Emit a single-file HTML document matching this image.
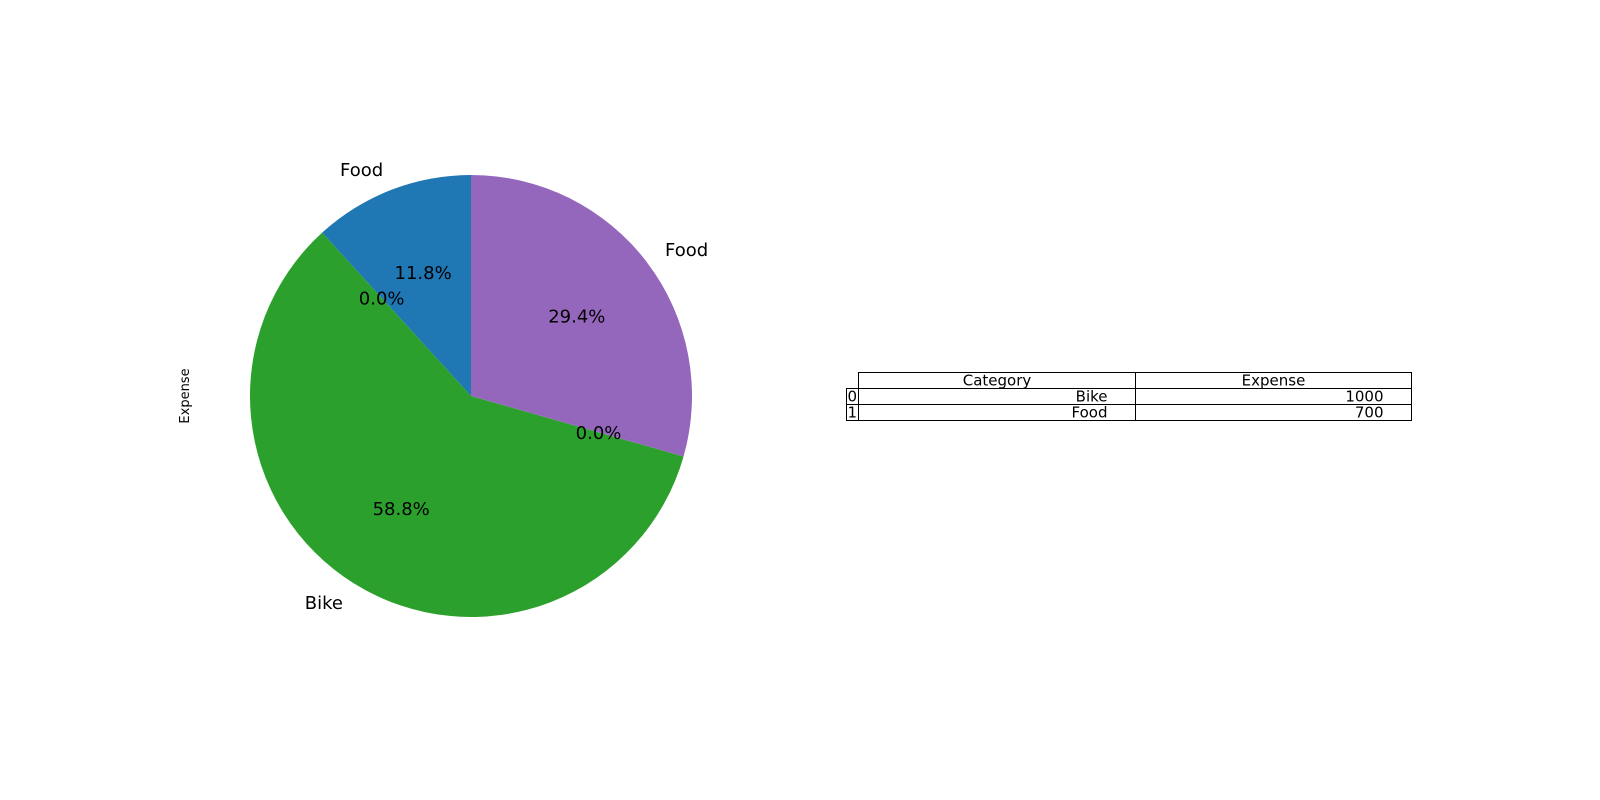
<!DOCTYPE html>
<html><head><meta charset="utf-8"><style>
body{margin:0;background:#fff;}
svg{display:block;font-family:"DejaVu Sans","Liberation Sans",sans-serif;}
</style></head><body>
<svg id="chart" width="1600" height="800" viewBox="0 0 1600 800" xmlns="http://www.w3.org/2000/svg">
<text x="189" y="396" font-size="13" text-anchor="middle" transform="rotate(-90 189 396)">Expense</text>
<g id="pie"></g>
<g id="pielabels"></g>
<g id="table"></g>
</svg>
<script>
const sliceLabels = ["Food", "", "Bike", "", "Food"];
const sliceValues = [200, 0, 1000, 0, 500];
const sliceColors = ["#1f77b4", "#ff7f0e", "#2ca02c", "#d62728", "#9467bd"];
const tableCategories = ["Bike", "Food"];
const tableExpenses = [1000, 700];

const NS = "http://www.w3.org/2000/svg";
const cx = 471, cy = 396, R = 221;
const pie = document.getElementById("pie");
const pl = document.getElementById("pielabels");
const total = sliceValues.reduce((a, b) => a + b, 0);
let ang = 90;
function pt(a, r) { const t = a * Math.PI / 180; return [cx + r * Math.cos(t), cy - r * Math.sin(t)]; }
sliceValues.forEach((v, i) => {
  const sweep = v / total * 360;
  const a0 = ang, a1 = ang + sweep, mid = ang + sweep / 2;
  if (sweep > 0) {
    const p0 = pt(a0, R), p1 = pt(a1, R);
    const path = document.createElementNS(NS, "path");
    path.setAttribute("d", `M${cx},${cy} L${p0[0]},${p0[1]} A${R},${R} 0 ${sweep > 180 ? 1 : 0} 0 ${p1[0]},${p1[1]} Z`);
    path.setAttribute("fill", sliceColors[i]);
    
    
    pie.appendChild(path);
  }
  ang = a1;
  const pc = pt(mid, R * 0.6);
  const t = document.createElementNS(NS, "text");
  t.setAttribute("x", pc[0]); t.setAttribute("y", pc[1] + 6.5);
  t.setAttribute("font-size", "18"); t.setAttribute("text-anchor", "middle");
  t.textContent = (v / total * 100).toFixed(1) + "%";
  
  
  pl.appendChild(t);
  if (sliceLabels[i]) {
    const lp = pt(mid, R * 1.1);
    const l = document.createElementNS(NS, "text");
    l.setAttribute("x", lp[0]); l.setAttribute("y", lp[1] + 6.5);
    l.setAttribute("font-size", "18");
    l.setAttribute("text-anchor", lp[0] < cx ? "end" : "start");
    l.textContent = sliceLabels[i];
    
    
    pl.appendChild(l);
  }
});

const tb = document.getElementById("table");
function rect(x, y, w, h, name) {
  const r = document.createElementNS(NS, "rect");
  r.setAttribute("x", x); r.setAttribute("y", y); r.setAttribute("width", w); r.setAttribute("height", h);
  r.setAttribute("fill", "none"); r.setAttribute("stroke", "#000"); r.setAttribute("stroke-width", "1");
  
  
  tb.appendChild(r);
}
function txt(x, y, s, anchor, name) {
  const t = document.createElementNS(NS, "text");
  t.setAttribute("x", x); t.setAttribute("y", y); t.setAttribute("font-size", "15"); t.setAttribute("text-anchor", anchor);
  t.textContent = s;
  
  
  tb.appendChild(t);
}
const x0 = 846.5, x1 = 858.5, x2 = 1135.5, x3 = 1411.5, y0 = 372.5, rh = 16;
rect(x1, y0, x2 - x1, rh, "header-category-cell");
rect(x2, y0, x3 - x2, rh, "header-expense-cell");
txt((x1 + x2) / 2, y0 + 13, "Category", "middle", "header-category");
txt((x2 + x3) / 2, y0 + 13, "Expense", "middle", "header-expense");
tableCategories.forEach((c, i) => {
  const y = y0 + rh * (i + 1);
  rect(x0, y, x1 - x0, rh, "row-index-cell-" + i);
  rect(x1, y, x2 - x1, rh, "category-cell-" + i);
  rect(x2, y, x3 - x2, rh, "expense-cell-" + i);
  txt(x0 + 1, y + 13, String(i), "start", "row-index-" + i);
  txt(x2 - 28, y + 13, c, "end", "category-value-" + i);
  txt(x3 - 28, y + 13, String(tableExpenses[i]), "end", "expense-value-" + i);
});
</script>
</body></html>
